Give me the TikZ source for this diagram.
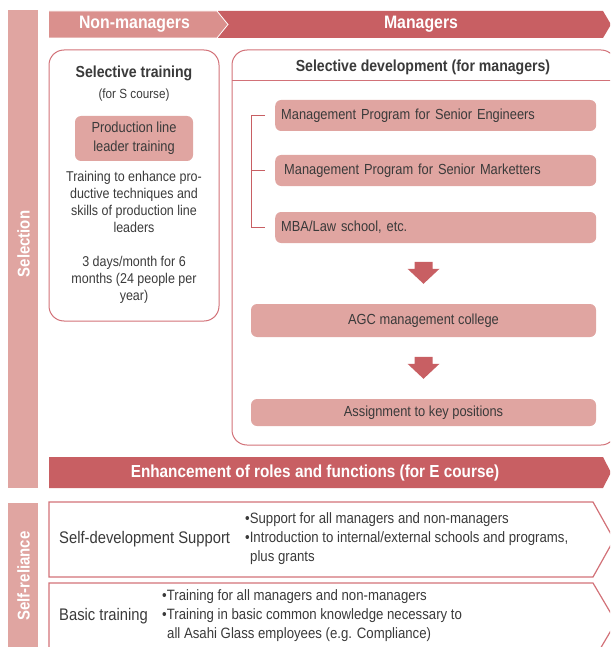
\documentclass[tikz,border=0pt]{standalone}
\usepackage{fontspec}
\setmainfont[FakeStretch=0.88]{Liberation Sans}

\definecolor{pinklt}{HTML}{E0A5A1}
\definecolor{pinkmd}{HTML}{DA908D}
\definecolor{redmd}{HTML}{C85F63}
\definecolor{edgepk}{HTML}{D27178}
\definecolor{ink}{HTML}{3A3A3A}

\tikzset{
  sidetext/.style={rotate=90, text=white, font=\bfseries\fontsize{17}{20}\selectfont, inner sep=0pt},
  headtext/.style={text=white, font=\bfseries\fontsize{18}{21}\selectfont, inner sep=0pt},
  frame/.style={draw=edgepk, line width=1pt, rounded corners=15pt},
  tagframe/.style={draw=edgepk, line width=1.2pt, line join=miter},
  title/.style={text=ink, font=\bfseries\fontsize{16}{19}\selectfont, inner sep=0pt},
  body/.style={text=ink, inner sep=0pt, align=center},
  pill/.style={fill=pinklt, rounded corners=6pt, text=ink, inner sep=0pt, align=center,
               font=\fontsize{14.6}{19}\selectfont},
  prog/.style={pill, anchor=west, text width=309pt, inner xsep=6pt, align=left,
               minimum height=31pt},
  fatdown/.pic={\fill[redmd] (-9,0) -- (9,0) -- (9,7) -- (16,7) -- (0,22) -- (-16,7) -- (-9,7) -- cycle;}
}

\begin{document}
\begin{tikzpicture}[x=1pt,y=-1pt]
\useasboundingbox (0,0) rectangle (610,647);
\clip (0,0) rectangle (610,647);

% side bars
\fill[pinklt] (8,10) rectangle (38,488);
\node[sidetext] (selection) at (23.5,244) {Selection};
\fill[pinklt] (8,503) rectangle (38,652);
\node[sidetext] (selfrel) at (23.5,576) {Self-reliance};

% header chevrons
\fill[redmd] (218,11) -- (603,11) -- (611,24.5) -- (603,38) -- (218,38) -- cycle;
\filldraw[fill=pinkmd, draw=white, line width=0.8pt] (45,11) -- (217,11) -- (228,24.5) -- (217,38) -- (45,38) -- cycle;
\fill[white] (38,8) rectangle (49,41);
\node[headtext] (nonmgr) at (134.5,24.5) {Non-managers};
\node[headtext] (mgr) at (421,24.5) {Managers};

% selective training
\draw[frame] (49,50) rectangle (219,321);
\node[title] (sttitle) at (134,73) {Selective training};
\node[body, font=\fontsize{13.3}{16}\selectfont] (stsub) at (134,95) {(for S course)};
\node[pill, minimum width=118pt, minimum height=45pt] (prod) at (134,138.5) {Production line\\leader training};
\node[body, font=\fontsize{14.2}{17}\selectfont] (stdesc) at (134,237)
  {Training to enhance pro-\\ductive techniques and\\skills of production line\\leaders\\[17pt]3 days/month for 6\\months (24 people per\\year)};

% selective development
\draw[frame] (232,50) rectangle (616,445);
\draw[edgepk, line width=1pt] (232,81) -- (616,81);
\node[title] (sdtitle) at (423,67) {Selective development (for managers)};

\node[prog] (p1) at (275,115.5) {Management Program for Senior Engineers};
\node[prog] (p2) at (275,170.5) {\hspace{3pt}Management Program for Senior Marketters};
\node[prog] (p3) at (275,227.5) {MBA/Law school, etc.};

\draw[redmd, line width=0.8pt] ([xshift=-10pt]p1.west) -| ([xshift=-24pt]p3.west) -- ([xshift=-10pt]p3.west);
\draw[redmd, line width=0.8pt] ([xshift=-10pt]p2.west) -- ++(-14,0);

\node[pill, minimum width=345pt, minimum height=33pt] (agc) at (423.5,320.5) {AGC management college};
\node[pill, minimum width=345pt, minimum height=27pt] (assign) at (423.5,412.5) {Assignment to key positions};

\path (agc.north) ++(0,-42) pic {fatdown};
\path (assign.north) ++(0,-42) pic {fatdown};

% enhancement band
\fill[redmd] (49,457) -- (603,457) -- (611,472.5) -- (603,488) -- (49,488) -- cycle;
\node[headtext, font=\bfseries\fontsize{17.4}{20}\selectfont] (enh) at (315,472.5) {Enhancement of roles and functions (for E course)};

% self-reliance programmes
\draw[tagframe] (49,502) -- (593,502) -- (614,539.5) -- (593,577) -- (49,577) -- cycle;
\node[body, anchor=west, font=\fontsize{16.8}{20}\selectfont] (sdsup) at (59,539) {Self-development Support};
\node[body, anchor=west, align=left, font=\fontsize{15}{19}\selectfont] (sdlist) at (245,539)
  {•Support for all managers and non-managers\\•Introduction to internal/external schools and programs,\\\hspace{5pt}plus grants};

\draw[tagframe] (49,583) -- (593,583) -- (616,622) -- (593,661) -- (49,661) -- cycle;
\node[body, anchor=west, font=\fontsize{16.8}{20}\selectfont] (basic) at (59,616) {Basic training};
\node[body, anchor=west, align=left, font=\fontsize{15}{19}\selectfont] (baslist) at (162,616)
  {•Training for all managers and non-managers\\•Training in basic common knowledge necessary to\\\hspace{5pt}all Asahi Glass employees (e.g. Compliance)};
\end{tikzpicture}
\end{document}
